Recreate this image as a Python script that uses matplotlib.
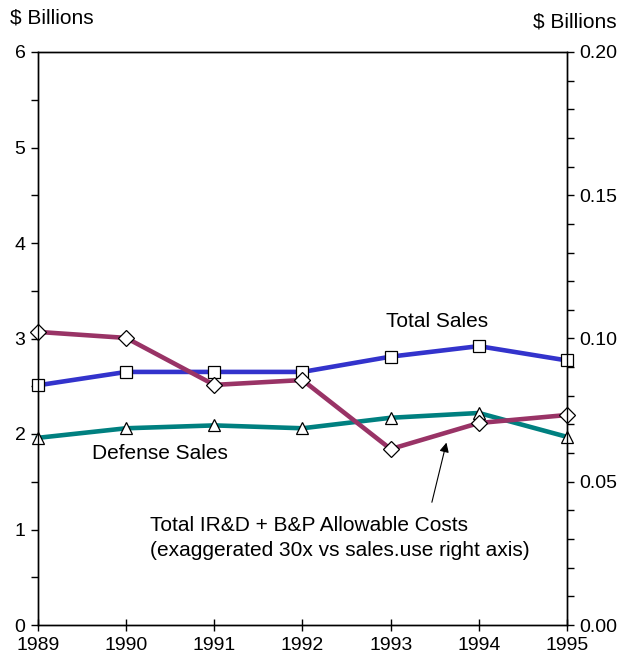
import matplotlib.pyplot as plt
from matplotlib.ticker import MultipleLocator

plt.rcParams['font.family'] = ['Liberation Sans', 'DejaVu Sans']

years = [1989, 1990, 1991, 1992, 1993, 1994, 1995]
total_sales = [2.51, 2.65, 2.65, 2.65, 2.81, 2.92, 2.77]
defense_sales = [1.96, 2.06, 2.09, 2.06, 2.17, 2.22, 1.97]
ird_bp_costs = [0.1023, 0.1002, 0.0838, 0.0855, 0.0614, 0.0705, 0.0733]

fig = plt.figure(figsize=(6.26, 6.67), dpi=100)
ax = fig.add_axes([38 / 626, 42 / 667, 529 / 626, 573 / 667])
ax2 = ax.twinx()

line_kw = dict(linewidth=3.3, markersize=9, markerfacecolor="white",
               markeredgecolor="black", markeredgewidth=0.9, clip_on=False)
ax.plot(years, total_sales, color="#3333CC", marker="s", zorder=3, **line_kw)
ax.plot(years, defense_sales, color="#008080", marker="^", zorder=3, **line_kw)
ax2.plot(years, ird_bp_costs, color="#993366", marker="D", **dict(line_kw, markersize=8))

ax.set_xlim(1989, 1995)
ax.set_ylim(0, 6)
ax2.set_ylim(0, 0.20)
ax.set_xticks(years)
ax.set_xticklabels([str(y) for y in years])
ax.yaxis.set_major_locator(MultipleLocator(1))
ax.yaxis.set_minor_locator(MultipleLocator(0.5))
ax2.yaxis.set_major_locator(MultipleLocator(0.05))
ax2.yaxis.set_minor_locator(MultipleLocator(0.01))
ax2.set_yticklabels([f"{v:.2f}" for v in ax2.get_yticks()])

ax.tick_params(axis="x", direction="inout", length=8, width=1, labelsize=14, pad=5)
ax.tick_params(axis="y", which="both", direction="out", length=5, width=1, labelsize=14, pad=4)
ax2.tick_params(axis="y", which="both", direction="out", length=5, width=1, labelsize=14, pad=4)
for a in (ax, ax2):
    for s in a.spines.values():
        s.set_linewidth(1)

fig.text(10 / 626, 1 - 18 / 667, "$ Billions", fontsize=15, va="center", ha="left")
fig.text(617 / 626, 1 - 22 / 667, "$ Billions", fontsize=15, va="center", ha="right")
ax.text(1993.53, 3.18, "Total Sales", fontsize=15, ha="center", va="center")
ax.text(1990.38, 1.80, "Defense Sales", fontsize=15, ha="center", va="center")
ax2.text(1990.27, 0.0304, "Total IR&D + B&P Allowable Costs\n(exaggerated 30x vs sales.use right axis)",
         fontsize=15, ha="left", va="center", linespacing=1.45)
ax2.annotate("", xy=(1993.64, 0.0646), xytext=(1993.46, 0.0419),
             arrowprops=dict(arrowstyle="-|>", color="black", lw=0.8, mutation_scale=14))

fig.savefig("out.png", dpi=100)
